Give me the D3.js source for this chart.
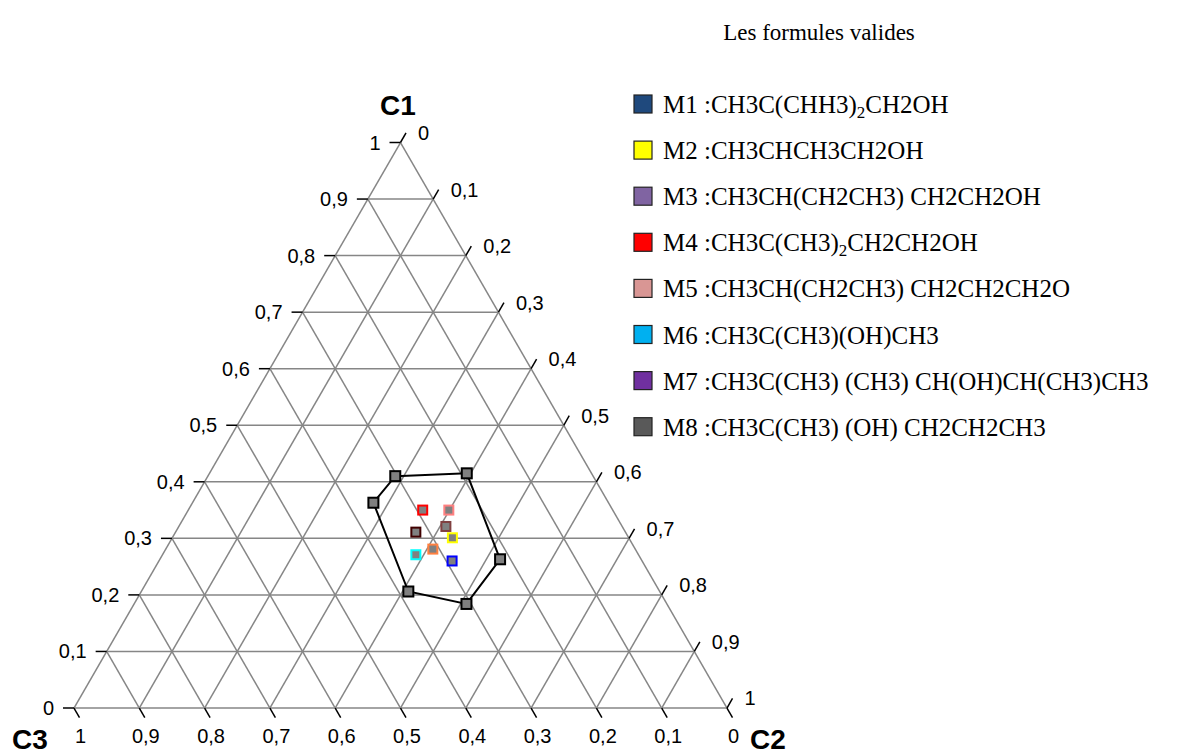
<!DOCTYPE html>
<html>
<head>
<meta charset="utf-8">
<script src="https://cdn.jsdelivr.net/npm/d3@7"></script>
<style>
  body { margin: 0; background: #fff; }
  svg { display: block; }
  .tick-label { font-family: Arial, "Liberation Sans", sans-serif; font-size: 20px; fill: #000; }
  .corner { font-family: Arial, "Liberation Sans", sans-serif; font-size: 28px; font-weight: bold; fill: #000; }
  .legend text, .title { font-family: "Times New Roman", "Liberation Serif", serif; fill: #000; }
</style>
</head>
<body>
<svg width="1183" height="754"></svg>
<script>
// tick values and their labels (comma decimals)
var ticks = [0, 0.1, 0.2, 0.3, 0.4, 0.5, 0.6, 0.7, 0.8, 0.9, 1];
var tickLabels = ["0", "0,1", "0,2", "0,3", "0,4", "0,5", "0,6", "0,7", "0,8", "0,9", "1"];

// domain of valid formulas (polygon vertices), components C1 / C2 / C3
var domC1 = [0.41, 0.415, 0.263, 0.184, 0.206, 0.363];
var domC2 = [0.287, 0.394, 0.521, 0.509, 0.409, 0.277];

// the eight plotted formulas
var ptC1 = [0.350, 0.350, 0.321, 0.311, 0.301, 0.281, 0.271, 0.260];
var ptC2 = [0.359, 0.399, 0.409, 0.368, 0.429, 0.409, 0.388, 0.449];
var ptBorder = ["#ff0000", "#ff8080", "#804040", "#400000", "#ffff00", "#ff8040", "#00ffff", "#0000ff"];

// legend ( "_" marks a subscript )
var legendNames = [
    "M1 :CH3C(CHH3)_2CH2OH",
    "M2 :CH3CHCH3CH2OH",
    "M3 :CH3CH(CH2CH3) CH2CH2OH",
    "M4 :CH3C(CH3)_2CH2CH2OH",
    "M5 :CH3CH(CH2CH3) CH2CH2CH2O",
    "M6 :CH3C(CH3)(OH)CH3",
    "M7 :CH3C(CH3) (CH3) CH(OH)CH(CH3)CH3",
    "M8 :CH3C(CH3) (OH) CH2CH2CH3"
];
var legendColors = ["#1f497d", "#ffff00", "#8064a2", "#ff0000", "#d99694", "#00b0f0", "#7030a0", "#595959"];

var svg = d3.select("svg");

// x along base (C2 + C1/2), y by C1
var x = d3.scaleLinear().domain([0, 1]).range([74, 727]);
var y = d3.scaleLinear().domain([0, 1]).range([708, 142.5]);

function px(c1, c2) { return [x(c2 + c1 / 2), y(c1)]; }

var grid = svg.append("g")
    .attr("stroke", "#868686")
    .attr("stroke-width", 1.5)
    .attr("fill", "none");

// grid lines for the three components
ticks.forEach(function(t) {
    if (t == 1) return;
    var a, b;
    a = px(t, 0); b = px(t, 1 - t);
    grid.append("line").attr("x1", a[0]).attr("y1", a[1]).attr("x2", b[0]).attr("y2", b[1]);
    a = px(0, t); b = px(1 - t, t);
    grid.append("line").attr("x1", a[0]).attr("y1", a[1]).attr("x2", b[0]).attr("y2", b[1]);
    a = px(0, 1 - t); b = px(1 - t, 0);
    grid.append("line").attr("x1", a[0]).attr("y1", a[1]).attr("x2", b[0]).attr("y2", b[1]);
});

var tk = svg.append("g").attr("stroke", "#000").attr("stroke-width", 1.5);
var lab = svg.append("g").attr("class", "tick-label");
var L = 11;

ticks.forEach(function(t, i) {
    // C1 on the left side
    var p = px(t, 0);
    tk.append("line").attr("x1", p[0]).attr("y1", p[1]).attr("x2", p[0] - L).attr("y2", p[1]);
    lab.append("text").attr("x", p[0] - L - 9).attr("y", p[1]).attr("dy", "0.35em")
        .attr("text-anchor", "end").text(tickLabels[i]);

    // C2 on the right side
    p = px(1 - t, t);
    var ex = p[0] + L * 0.5, ey = p[1] - L * 0.866;
    tk.append("line").attr("x1", p[0]).attr("y1", p[1]).attr("x2", ex).attr("y2", ey);
    lab.append("text").attr("x", ex + 12).attr("y", ey).attr("dy", "0.35em").text(tickLabels[i]);

    // C3 along the bottom
    p = px(0, 1 - t);
    ex = p[0] + L * 0.5; ey = p[1] + L * 0.866;
    tk.append("line").attr("x1", p[0]).attr("y1", p[1]).attr("x2", ex).attr("y2", ey);
    lab.append("text").attr("x", ex + 1).attr("y", 743)
        .attr("text-anchor", "middle").text(tickLabels[i]);
});

// corner names
svg.append("text").attr("class", "corner").attr("x", 398).attr("y", 115).attr("text-anchor", "middle").text("C1");
svg.append("text").attr("class", "corner").attr("x", 12).attr("y", 749).text("C3");
svg.append("text").attr("class", "corner").attr("x", 750).attr("y", 749).text("C2");

// domain polygon
var poly = domC1.map(function(c, i) { return px(c, domC2[i]); });
svg.append("path")
    .attr("d", d3.line()(poly) + "Z")
    .attr("fill", "none")
    .attr("stroke", "#000")
    .attr("stroke-width", 2);

var S = 10;
svg.append("g").selectAll("rect")
    .data(poly)
    .enter().append("rect")
    .attr("x", function(d) { return d[0] - S / 2; })
    .attr("y", function(d) { return d[1] - S / 2; })
    .attr("width", S).attr("height", S)
    .attr("fill", "#808080")
    .attr("stroke", "#000")
    .attr("stroke-width", 2);

// plotted formulas
svg.append("g").selectAll("rect")
    .data(ptC1)
    .enter().append("rect")
    .attr("x", function(d, i) { return px(d, ptC2[i])[0] - 4.5; })
    .attr("y", function(d, i) { return px(d, ptC2[i])[1] - 4.5; })
    .attr("width", 9).attr("height", 9)
    .attr("fill", "#808080")
    .attr("stroke", function(d, i) { return ptBorder[i]; })
    .attr("stroke-width", 2);

// title
svg.append("text").attr("class", "title")
    .attr("x", 819).attr("y", 40)
    .attr("text-anchor", "middle")
    .style("font-size", "23px")
    .text("Les formules valides");

// legend
var legend = svg.append("g").attr("class", "legend");
legendNames.forEach(function(name, i) {
    var cy = 104 + i * 46.1;
    legend.append("rect")
        .attr("x", 634).attr("y", cy - 9)
        .attr("width", 18).attr("height", 18)
        .attr("fill", legendColors[i])
        .attr("stroke", "#222")
        .attr("stroke-width", 1.2);
    var t = legend.append("text")
        .attr("x", 663).attr("y", cy + 9)
        .style("font-size", "25px");
    var parts = name.split("_");
    t.append("tspan").text(parts[0]);
    if (parts.length > 1) {
        t.append("tspan").attr("dy", 5).style("font-size", "17px").text(parts[1].charAt(0));
        t.append("tspan").attr("dy", -5).text(parts[1].slice(1));
    }
});
</script>
</body>
</html>
